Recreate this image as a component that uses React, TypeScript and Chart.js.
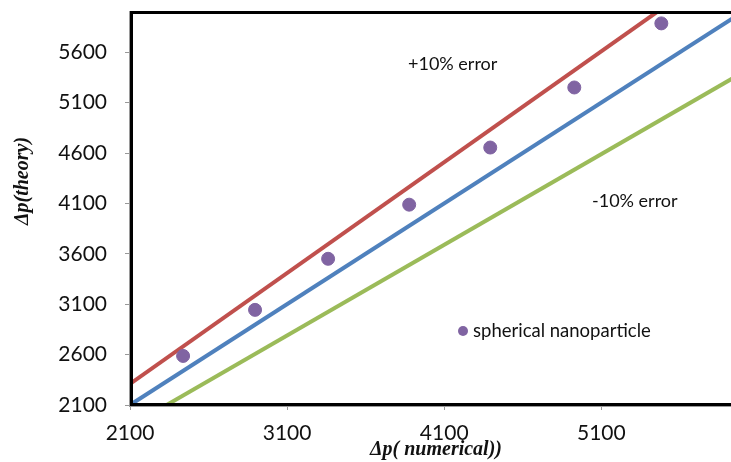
import React, { useEffect, useRef } from "react";
import { Chart, registerables } from "chart.js";

Chart.register(...registerables);

// Measured pressure drop pairs: numerical simulation (x) vs. theory (y)
const numericalDp = [2438, 2896, 3361, 3877, 4393, 4928, 5482];
const theoryDp = [2587, 3044, 3551, 4088, 4655, 5251, 5887];

// Reference lines: parity and ±10% error bands, given by their end points
const lineX = [2100, 6000];
const parityY = [2100, 6000];
const plusTenY = [2310, 6600];
const minusTenY = [1890, 5400];

const xTicks = [2100, 3100, 4100, 5100];
const yTicks = [2100, 2600, 3100, 3600, 4100, 4600, 5100, 5600];

const X_MIN = 2100;
const X_MAX = 5935;
const Y_MIN = 2100;
const Y_MAX = 6000;

const W = 731;
const H = 462;
// the plot area runs off the right edge of the visible frame
const CANVAS_W = 740;

const TICK_FONT = "Lato, 'Open Sans', sans-serif";
const TITLE_FONT = "'Liberation Serif', serif";

const pts = (xs: number[], ys: number[]) => xs.map((x, i) => ({ x, y: ys[i] }));

const overlayPlugin = {
  id: "overlay",
  afterDatasetsDraw(chart: any) {
    const { ctx, chartArea } = chart;
    const { left, top, right, bottom } = chartArea;
    ctx.save();

    // frame: thick black on top, left and bottom
    ctx.strokeStyle = "#000";
    ctx.lineWidth = 3;
    ctx.beginPath();
    ctx.moveTo(left + 1.5, bottom);
    ctx.lineTo(left + 1.5, top + 0.5);
    ctx.lineTo(right + 10, top + 0.5);
    ctx.moveTo(left, bottom - 0.5);
    ctx.lineTo(right + 10, bottom - 0.5);
    ctx.stroke();
    ctx.strokeStyle = "#9a9a9a";
    ctx.lineWidth = 1;
    ctx.beginPath();
    ctx.moveTo(left - 0.5, bottom + 1);
    ctx.lineTo(left - 0.5, top - 1);
    ctx.moveTo(left - 1, bottom + 1.5);
    ctx.lineTo(right + 10, bottom + 1.5);
    ctx.stroke();

    // band labels
    ctx.fillStyle = "#111";
    ctx.font = `18px ${TICK_FONT}`;
    ctx.textBaseline = "middle";
    ctx.textAlign = "left";
    ctx.fillText("+10% error", 408, 64);
    ctx.fillText("-10% error", 592, 201);

    // legend entry
    const ds = chart.data.datasets[0];
    ctx.fillStyle = ds.backgroundColor;
    ctx.beginPath();
    ctx.arc(463, 331, 5, 0, Math.PI * 2);
    ctx.fill();
    ctx.fillStyle = "#111";
    ctx.font = `18.5px ${TICK_FONT}`;
    ctx.fillText(ds.label, 473, 331);

    // axis titles
    ctx.font = `italic bold 20px ${TITLE_FONT}`;
    ctx.textAlign = "center";
    ctx.fillText("Δp( numerical))", 436, 450);
    ctx.save();
    ctx.translate(23, 181);
    ctx.rotate(-Math.PI / 2);
    ctx.fillText("Δp(theory)", 0, 0);
    ctx.restore();

    ctx.restore();
  },
};

export default function App() {
  const ref = useRef<HTMLCanvasElement | null>(null);

  useEffect(() => {
    // full-bleed page: no default body margin, no scrolling
    document.documentElement.style.margin = "0";
    document.documentElement.style.overflow = "hidden";
    document.body.style.margin = "0";
    document.body.style.overflow = "hidden";

    const canvas = ref.current!;
    const chart = new Chart(canvas, {
      type: "scatter",
      data: {
        datasets: [
          {
            label: "spherical nanoparticle",
            data: pts(numericalDp, theoryDp),
            backgroundColor: "#8064A2",
            borderColor: "#8064A2",
            pointRadius: 6.5,
            pointHoverRadius: 6.5,
            order: 0,
          },
          {
            label: "+10%",
            data: pts(lineX, plusTenY),
            showLine: true,
            borderColor: "#C0504D",
            backgroundColor: "#C0504D",
            borderWidth: 4,
            pointRadius: 0,
            order: 1,
          },
          {
            label: "parity",
            data: pts(lineX, parityY),
            showLine: true,
            borderColor: "#4F81BD",
            backgroundColor: "#4F81BD",
            borderWidth: 4,
            pointRadius: 0,
            order: 1,
          },
          {
            label: "-10%",
            data: pts(lineX, minusTenY),
            showLine: true,
            borderColor: "#9BBB59",
            backgroundColor: "#9BBB59",
            borderWidth: 4,
            pointRadius: 0,
            order: 1,
          },
        ],
      },
      options: {
        animation: false,
        responsive: false,
        devicePixelRatio: 1,
        layout: { padding: { top: 12, right: 0, left: 0, bottom: 0 } },
        plugins: { legend: { display: false }, tooltip: { enabled: false } },
        scales: {
          x: {
            type: "linear",
            min: X_MIN,
            max: X_MAX,
            afterBuildTicks: (s: any) => {
              s.ticks = xTicks.map((v) => ({ value: v }));
            },
            afterFit: (s: any) => {
              s.height = 57;
              s.paddingLeft = 0;
              s.paddingRight = 0;
            },
            border: { display: false },
            grid: { drawOnChartArea: false, drawTicks: true, tickLength: 5, tickColor: "#999" },
            ticks: {
              color: "#111",
              font: { family: TICK_FONT, size: 21 },
              padding: 11,
              maxRotation: 0,
              callback: (v: any) => String(v),
            },
          },
          y: {
            type: "linear",
            min: Y_MIN,
            max: Y_MAX,
            afterBuildTicks: (s: any) => {
              s.ticks = yTicks.map((v) => ({ value: v }));
            },
            afterFit: (s: any) => {
              s.width = 130;
              s.paddingTop = 0;
              s.paddingBottom = 0;
            },
            border: { display: false },
            grid: { drawOnChartArea: false, drawTicks: true, tickLength: 5, tickColor: "#999" },
            ticks: {
              color: "#111",
              font: { family: TICK_FONT, size: 21 },
              padding: 18,
              callback: (v: any) => String(v),
            },
          },
        },
      },
      plugins: [overlayPlugin],
    });
    return () => chart.destroy();
  }, []);

  return (
    <div style={{ width: W, height: H, background: "#fff", overflow: "hidden" }}>
      <canvas
        ref={ref}
        width={CANVAS_W}
        height={H}
        style={{ width: CANVAS_W, height: H, display: "block" }}
      />
    </div>
  );
}
